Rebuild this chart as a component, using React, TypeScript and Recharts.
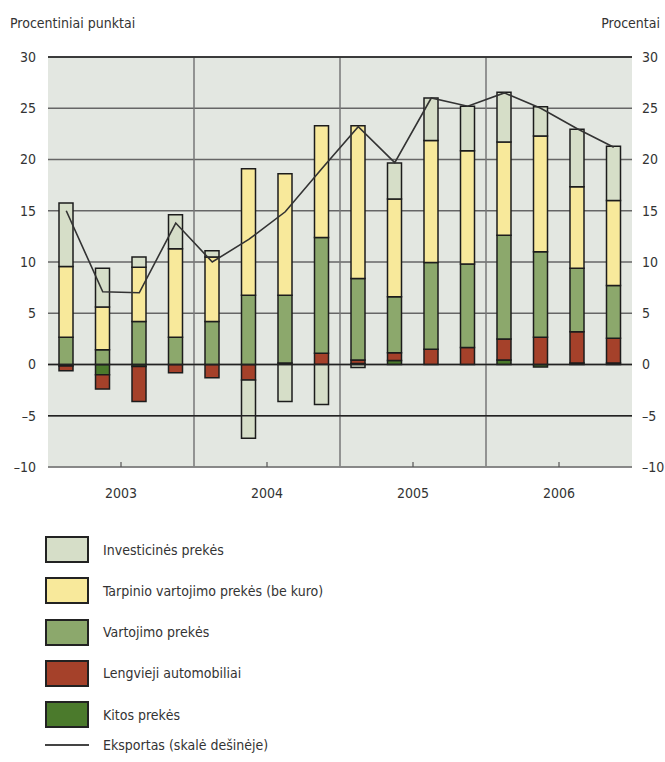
import * as React from "react";
import {
  Bar,
  CartesianGrid,
  ComposedChart,
  Line,
  ReferenceLine,
  XAxis,
  YAxis,
} from "recharts";

const QUARTERS = [
  "2003 I", "2003 II", "2003 III", "2003 IV",
  "2004 I", "2004 II", "2004 III", "2004 IV",
  "2005 I", "2005 II", "2005 III", "2005 IV",
  "2006 I", "2006 II", "2006 III", "2006 IV",
];
const YEARS = ["2003", "2004", "2005", "2006"];
const Y_TICKS = [-10, -5, 0, 5, 10, 15, 20, 25, 30];

// procentiniai punktai
const KITOS = [-0.15, -1.0, -0.2, 0, 0, 0, 0.15, 0, 0.1, 0.4, 0, 0, 0.45, -0.25, 0.15, 0.15];
const LENGVIEJI = [-0.45, -1.4, -3.4, -0.8, -1.3, -1.5, 0, 1.1, 0.35, 0.75, 1.5, 1.65, 2.05, 2.65, 3.05, 2.4];
const VARTOJIMO = [2.65, 1.45, 4.2, 2.65, 4.2, 6.75, 6.6, 11.3, 7.95, 5.45, 8.45, 8.15, 10.1, 8.35, 6.2, 5.15];
const TARPINIO = [6.9, 4.15, 5.3, 8.65, 6.3, 12.35, 11.85, 10.9, 14.9, 9.55, 11.9, 11.05, 9.1, 11.3, 7.95, 8.3];
const INVESTICINES = [6.2, 3.8, 1.0, 3.3, 0.6, -5.7, -3.6, -3.9, -0.3, 3.5, 4.15, 4.35, 4.85, 2.85, 5.6, 5.3];
// procentai
const EKSPORTAS = [15.0, 7.1, 7.0, 13.8, 10.0, 12.2, 14.9, 19.1, 23.2, 19.7, 26.0, 25.2, 26.5, 25.0, 23.0, 21.2];

const SERIES = [
  { key: "inv", name: "Investicinės prekės", color: "#d6dec8" },
  { key: "tarp", name: "Tarpinio vartojimo prekės (be kuro)", color: "#f8e99b" },
  { key: "vart", name: "Vartojimo prekės", color: "#8ca86c" },
  { key: "leng", name: "Lengvieji automobiliai", color: "#a5412a" },
  { key: "kitos", name: "Kitos prekės", color: "#4b7a2c" },
];
const LINE_NAME = "Eksportas (skalė dešinėje)";

const FONT = "'Liberation Sans Narrow', 'DejaVu Sans Condensed', 'Liberation Sans', sans-serif";
const TEXT = "#333";

const fmt = (v: number) => (v < 0 ? `–${Math.abs(v)}` : `${v}`);

function YearTick(props: any) {
  const { x, y, payload } = props;
  return (
    <g>
      <line x1={x} x2={x} y1={y} y2={y - 5} stroke="#555" strokeWidth={1.2} />
      <text x={x} y={y + 31} textAnchor="middle" fill={TEXT} fontSize={14} fontFamily={FONT}>
        {YEARS[(payload.value - 2) / 4]}
      </text>
    </g>
  );
}

export default function App() {
  // idx = quarter position on a 0..16 scale (4 quarters per year)
  const data = QUARTERS.map((q, i) => ({
    q,
    idx: i + 0.5,
    kitos: KITOS[i],
    leng: LENGVIEJI[i],
    vart: VARTOJIMO[i],
    tarp: TARPINIO[i],
    inv: INVESTICINES[i],
    eks: EKSPORTAS[i],
  }));
  const stackOrder = ["kitos", "leng", "vart", "tarp", "inv"];

  return (
    <div
      style={{
        position: "absolute",
        left: 0,
        top: 0,
        width: 665,
        height: 762,
        background: "#fff",
        fontFamily: FONT,
        color: TEXT,
      }}
    >
      <div style={{ position: "absolute", left: 10, top: 15, fontSize: 14 }}>Procentiniai punktai</div>
      <div style={{ position: "absolute", right: 5, top: 15, fontSize: 14 }}>Procentai</div>
      <ComposedChart
        width={665}
        height={520}
        data={data}
        stackOffset="sign"
        margin={{ top: 57, right: 0, left: 8, bottom: 13 }}
      >
        <CartesianGrid
          xAxisId="cat"
          yAxisId="left"
          vertical={false}
          stroke="#666"
          strokeWidth={1.5}
          fill="#e3e7e1"
          fillOpacity={1}
        />
        <XAxis xAxisId="cat" dataKey="q" hide height={0} />
        <XAxis
          xAxisId="yr"
          dataKey="idx"
          type="number"
          domain={[0, 16]}
          allowDataOverflow
          ticks={YEARS.map((_, i) => i * 4 + 2)}
          axisLine={{ stroke: "#888", strokeWidth: 1.5 }}
          tickLine={false}
          tickSize={0}
          tickMargin={0}
          height={40}
          tick={<YearTick />}
          interval={0}
        />
        <YAxis
          yAxisId="left"
          domain={[-10, 30]}
          ticks={Y_TICKS}
          width={40}
          axisLine={false}
          tickLine={false}
          tickMargin={6}
          tickFormatter={fmt}
          tick={{ fill: TEXT, fontSize: 14, fontFamily: FONT }}
        />
        <YAxis
          yAxisId="right"
          orientation="right"
          domain={[-10, 30]}
          ticks={Y_TICKS}
          width={33}
          axisLine={false}
          tickLine={false}
          tickMargin={4}
          tickFormatter={fmt}
          tick={{ fill: TEXT, fontSize: 14, fontFamily: FONT }}
        />
        {[4, 8, 12].map((v) => (
          <ReferenceLine key={v} xAxisId="yr" yAxisId="left" x={v} stroke="#777" strokeWidth={1.5} />
        ))}
        {[30, 0, -5].map((v) => (
          <ReferenceLine key={v} xAxisId="cat" yAxisId="left" y={v} stroke="#222" strokeWidth={1.5} />
        ))}
        {stackOrder.map((k) => {
          const s = SERIES.find((x) => x.key === k)!;
          return (
            <Bar
              key={k}
              xAxisId="cat"
              yAxisId="left"
              dataKey={k}
              name={s.name}
              stackId="a"
              fill={s.color}
              stroke="#1c1c1c"
              strokeWidth={1.5}
              barSize={14}
              isAnimationActive={false}
            />
          );
        })}
        <Line
          xAxisId="cat"
          yAxisId="right"
          dataKey="eks"
          name={LINE_NAME}
          type="linear"
          stroke="#333"
          strokeWidth={1.6}
          dot={false}
          isAnimationActive={false}
        />
      </ComposedChart>

      {SERIES.map((s, i) => (
        <div
          key={s.key}
          style={{ position: "absolute", left: 45, top: 536 + i * 41.3, display: "flex", alignItems: "center" }}
        >
          <div
            style={{
              width: 40,
              height: 23,
              background: s.color,
              border: "2px solid #222",
            }}
          />
          <span style={{ marginLeft: 14, fontSize: 14 }}>{s.name}</span>
        </div>
      ))}
      <div style={{ position: "absolute", left: 45, top: 737, display: "flex", alignItems: "center" }}>
        <div style={{ width: 44, height: 2, background: "#444" }} />
        <span style={{ marginLeft: 14, fontSize: 14 }}>{LINE_NAME}</span>
      </div>
    </div>
  );
}
